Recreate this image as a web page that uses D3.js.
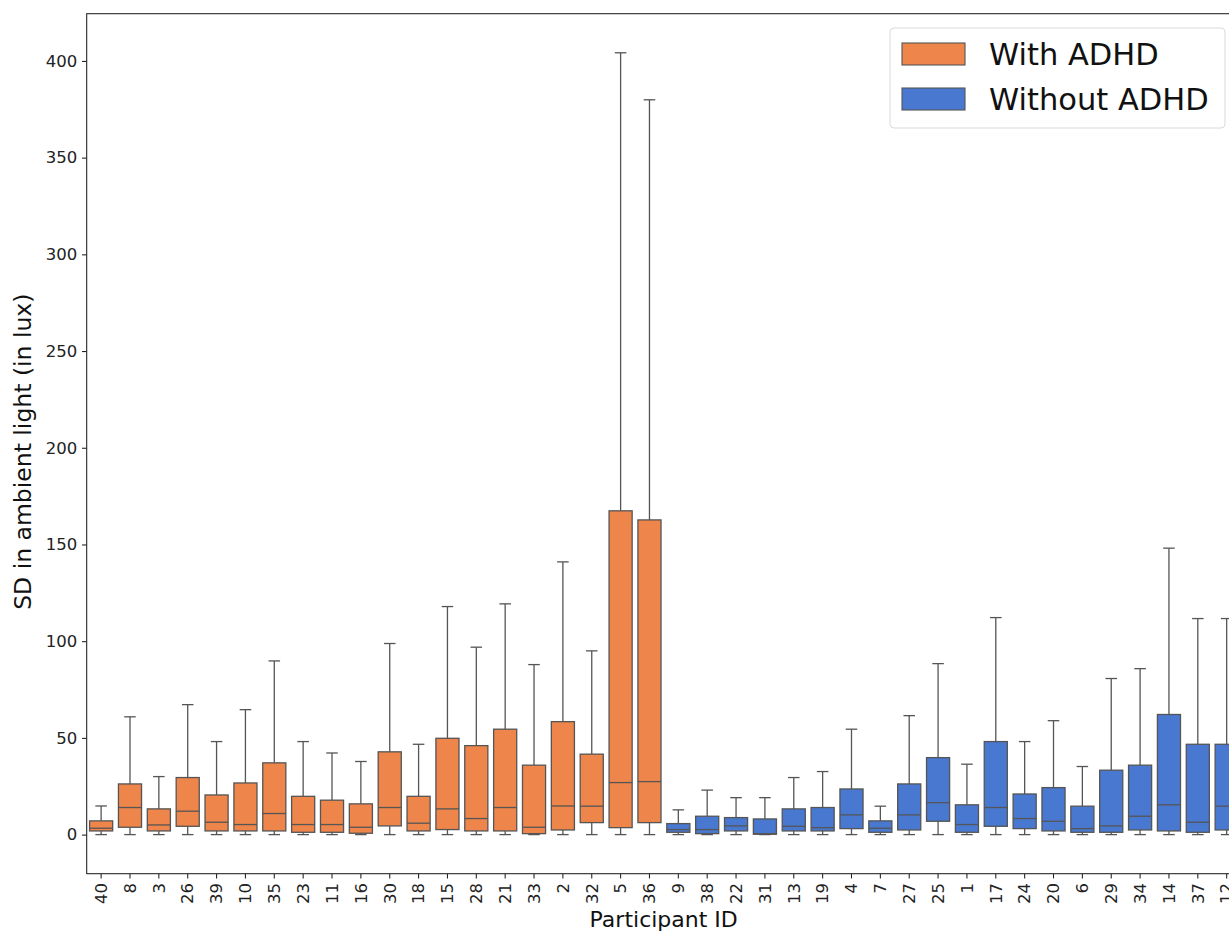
<!DOCTYPE html>
<html>
<head>
<meta charset="utf-8">
<script src="https://cdn.jsdelivr.net/npm/d3@7"></script>
<style>
  body { margin: 0; background: #fff; }
  svg { display: block; font-family: "DejaVu Sans", sans-serif; }
</style>
</head>
<body>
<div id="chart"></div>
<script>
// participant order as on the x axis
var ids = ["40","8","3","26","39","10","35","23","11","16","30","18","15","28","21","33","2","32","5","36",
           "9","38","22","31","13","19","4","7","27","25","1","17","24","20","6","29","34","14","37","12"];
var groups = ["With ADHD","With ADHD","With ADHD","With ADHD","With ADHD","With ADHD","With ADHD","With ADHD","With ADHD","With ADHD",
              "With ADHD","With ADHD","With ADHD","With ADHD","With ADHD","With ADHD","With ADHD","With ADHD","With ADHD","With ADHD",
              "Without ADHD","Without ADHD","Without ADHD","Without ADHD","Without ADHD","Without ADHD","Without ADHD","Without ADHD","Without ADHD","Without ADHD",
              "Without ADHD","Without ADHD","Without ADHD","Without ADHD","Without ADHD","Without ADHD","Without ADHD","Without ADHD","Without ADHD","Without ADHD"];
var whiskerLow = [0,0,0,0,0,0,0,0,0,0, 0,0,0,0,0,0,0,0,0,0, 0,0,0,0,0,0,0,0,0,0, 0,0,0,0,0,0,0,0,0,0];
var q1 = [1.9,3.8,1.9,4.3,1.9,1.9,1.9,1.2,1.2,0.7, 4.5,1.9,2.6,1.9,1.9,0.5,2.4,6.2,3.6,6.2,
          1.2,0.5,1.9,0.2,1.9,1.9,3.1,1.2,2.4,6.9, 1.2,4.3,3.1,1.9,1.2,1.2,2.4,1.9,1.2,2.4];
var medians = [3.3,14.0,5.0,12.1,6.4,5.2,10.9,5.2,5.2,3.8, 14.0,5.9,13.3,8.3,14.0,3.8,14.8,14.7,26.9,27.4,
               2.6,2.6,4.5,0.5,4.3,3.6,10.2,3.3,10.2,16.5, 5.2,14.0,8.3,6.9,3.1,4.5,9.5,15.4,6.4,14.7];
var q3 = [7.1,26.2,13.3,29.5,20.5,26.7,37.1,19.8,17.8,15.9, 42.8,19.8,49.8,46.0,54.5,35.9,58.4,41.6,167.4,162.7,
          5.7,9.5,8.8,8.1,13.3,14.0,23.6,7.1,26.2,39.8, 15.4,48.1,21.0,24.3,14.7,33.3,35.9,62.1,46.7,46.7];
var whiskerHigh = [14.8,60.9,30.0,67.2,48.1,64.6,89.8,48.1,42.2,37.8, 98.8,46.7,117.9,96.9,119.3,87.9,141.0,95.0,404.2,379.9,
                   12.8,23.0,19.1,19.1,29.5,32.6,54.5,14.7,61.5,88.4, 36.4,112.2,48.1,58.9,35.2,80.7,85.8,148.1,111.7,111.7];
var yTicks = [0, 50, 100, 150, 200, 250, 300, 350, 400];
var legendNames = ["With ADHD", "Without ADHD"];
var legendColors = ["#EE854A", "#4878D0"];

var data = ids.map(function (id, i) {
    return { id: id, group: groups[i], lo: whiskerLow[i], q1: q1[i], med: medians[i], q3: q3[i], hi: whiskerHigh[i] };
});

// figure size and margins (plot runs past the right edge, like the reference)
var W = 1229, H = 932;
var margin = { top: 13.7, left: 86.7 };
var band = 28.86;
var width = band * ids.length,
    height = 860;

var svg = d3.select("#chart").append("svg")
    .attr("width", W)
    .attr("height", H)
    .style("overflow", "hidden");

var g = svg.append("g")
    .attr("transform", "translate(" + margin.left + "," + margin.top + ")");

var x = d3.scaleBand()
    .domain(ids)
    .range([0, width])
    .paddingInner(0)
    .paddingOuter(0);

var ymax = d3.max(whiskerHigh), ymin = 0;
var pad = (ymax - ymin) * 0.05;
var y = d3.scaleLinear()
    .domain([ymin - pad, ymax + pad])
    .range([height, 0]);

var color = d3.scaleOrdinal().domain(legendNames).range(legendColors);

var lineCol = "#555555", lw = 1.3;
var boxW = x.bandwidth() * 0.8, capW = boxW / 2;

// boxes
var boxes = g.selectAll(".box")
    .data(data)
    .enter().append("g")
    .attr("class", "box")
    .attr("transform", function (d) { return "translate(" + (x(d.id) + x.bandwidth() / 2) + ",0)"; });

// whiskers
boxes.append("line")
    .attr("x1", 0).attr("x2", 0)
    .attr("y1", function (d) { return y(d.q3); })
    .attr("y2", function (d) { return y(d.hi); })
    .attr("stroke", lineCol).attr("stroke-width", lw);
boxes.append("line")
    .attr("x1", 0).attr("x2", 0)
    .attr("y1", function (d) { return y(d.q1); })
    .attr("y2", function (d) { return y(d.lo); })
    .attr("stroke", lineCol).attr("stroke-width", lw);
// caps
boxes.append("line")
    .attr("x1", -capW / 2).attr("x2", capW / 2)
    .attr("y1", function (d) { return y(d.hi); })
    .attr("y2", function (d) { return y(d.hi); })
    .attr("stroke", lineCol).attr("stroke-width", lw);
boxes.append("line")
    .attr("x1", -capW / 2).attr("x2", capW / 2)
    .attr("y1", function (d) { return y(d.lo); })
    .attr("y2", function (d) { return y(d.lo); })
    .attr("stroke", lineCol).attr("stroke-width", lw);
// box body
boxes.append("rect")
    .attr("x", -boxW / 2)
    .attr("width", boxW)
    .attr("y", function (d) { return y(d.q3); })
    .attr("height", function (d) { return y(d.q1) - y(d.q3); })
    .attr("fill", function (d) { return color(d.group); })
    .attr("stroke", lineCol).attr("stroke-width", lw);
// median
boxes.append("line")
    .attr("x1", -boxW / 2).attr("x2", boxW / 2)
    .attr("y1", function (d) { return y(d.med); })
    .attr("y2", function (d) { return y(d.med); })
    .attr("stroke", lineCol).attr("stroke-width", lw);

// axes
var yAxis = g.append("g")
    .call(d3.axisLeft(y).tickValues(yTicks).tickSize(4.7).tickPadding(4.7));
var xAxis = g.append("g")
    .attr("transform", "translate(0," + height + ")")
    .call(d3.axisBottom(x).tickSize(4.7).tickPadding(4.7));

[yAxis, xAxis].forEach(function (a) {
    a.select(".domain").remove();
    a.selectAll(".tick line").attr("stroke", "#222").attr("stroke-width", 1.07);
    a.selectAll(".tick text").attr("fill", "#222").style("font-size", "16.5px").style("font-family", "DejaVu Sans");
});

xAxis.selectAll(".tick text")
    .attr("transform", "rotate(-90)")
    .attr("text-anchor", "end")
    .attr("x", -9.4)
    .attr("y", 0)
    .attr("dy", "0.35em");

// spines
g.append("rect")
    .attr("x", 0).attr("y", 0)
    .attr("width", width).attr("height", height)
    .attr("fill", "none")
    .attr("stroke", "#222").attr("stroke-width", 1.07);

// axis labels
svg.append("text")
    .attr("x", margin.left + 577)
    .attr("y", 927)
    .attr("text-anchor", "middle")
    .style("font-size", "22px")
    .attr("fill", "#111")
    .text("Participant ID");

svg.append("text")
    .attr("transform", "translate(31," + (margin.top + height / 2 + 8) + ") rotate(-90)")
    .attr("text-anchor", "middle")
    .style("font-size", "23.5px")
    .attr("fill", "#111")
    .text("SD in ambient light (in lux)");

// legend
var legend = svg.append("g").attr("transform", "translate(890,28)");
legend.append("rect")
    .attr("width", 335).attr("height", 100)
    .attr("rx", 4).attr("ry", 4)
    .attr("fill", "#fff").attr("fill-opacity", 0.8)
    .attr("stroke", "#d9d9d9").attr("stroke-width", 1);

legendNames.forEach(function (name, i) {
    var row = legend.append("g").attr("transform", "translate(0," + (i * 45) + ")");
    row.append("rect")
        .attr("x", 12).attr("y", 15)
        .attr("width", 63).attr("height", 22)
        .attr("fill", legendColors[i])
        .attr("stroke", lineCol).attr("stroke-width", 1.1);
    row.append("text")
        .attr("x", 99).attr("y", 26)
        .attr("dy", "0.35em")
        .style("font-size", "30.5px")
        .attr("fill", "#111")
        .text(name);
});
</script>
</body>
</html>
